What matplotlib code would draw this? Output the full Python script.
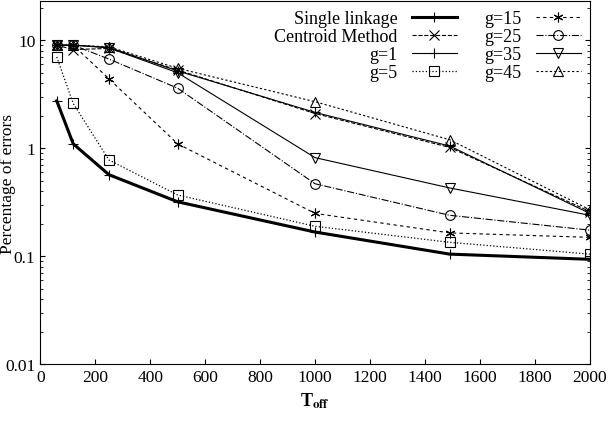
import matplotlib
matplotlib.use("Agg")
import matplotlib.pyplot as plt

plt.rcParams['font.family'] = ['Liberation Serif', 'DejaVu Serif']
plt.rcParams['mathtext.fontset'] = 'stix'

x = [60, 120, 250, 500, 1000, 1490, 2000]
single = [2.75, 1.1, 0.57, 0.32, 0.168, 0.105, 0.094]
centroid = [9.0, 8.2, 8.4, 5.3, 2.1, 1.02, 0.26]
g1 = [9.0, 9.0, 8.6, 5.2, 2.15, 1.05, 0.25]
g5 = [7.0, 2.6, 0.78, 0.37, 0.19, 0.135, 0.105]
g15 = [9.0, 9.0, 4.4, 1.1, 0.25, 0.165, 0.15]
g25 = [9.0, 9.0, 6.7, 3.6, 0.47, 0.24, 0.175]
g35 = [9.0, 9.0, 8.5, 5.0, 0.82, 0.43, 0.24]
g45 = [9.0, 9.0, 8.7, 5.5, 2.7, 1.2, 0.27]

fig = plt.figure(figsize=(6.10, 4.31), dpi=100)
ax = fig.add_axes([0.066, 0.152, 0.901, 0.843])
k = dict(color='black', markerfacecolor='none', markersize=7, mew=0.8)
ax.plot(x, single, linestyle='-', lw=2.2, marker='+', label='Single linkage', **k)
ax.plot(x, centroid, linestyle='--', lw=0.8, marker='x', label='Centroid Method', **k)
ax.plot(x, g1, linestyle='-', lw=0.8, marker='+', label='g=1', **k)
ax.plot(x, g5, linestyle=':', lw=0.9, marker='s', label='g=5', **k)
ax.plot(x, g15, linestyle=(0, (3, 3)), lw=0.8, marker=(6, 2, 0), label='g=15', **k)
ax.plot(x, g25, linestyle='-.', lw=0.8, marker='o', label='g=25', **k)
ax.plot(x, g35, linestyle='-', lw=0.8, marker='v', label='g=35', **k)
ax.plot(x, g45, linestyle=(0, (2, 2)), lw=0.8, marker='^', label='g=45', **k)

ax.set_yscale('log')
ax.set_ylim(0.01, 23)
ax.set_xlim(0, 2000)
ax.set_xticks(range(0, 2001, 200))
ax.set_yticks([0.01, 0.1, 1, 10])
ax.set_yticklabels(['0.01', '0.1', '1', '10'])
ax.tick_params(direction='in', which='both', top=False, right=True, labelsize=12.5)
ax.set_xlabel(r'T$_{\mathbf{off}}$', fontsize=13, fontweight='bold')
ax.set_ylabel('Percentage of errors', fontsize=12.5)
ax.yaxis.set_label_coords(-0.045, 0.5)
ax.legend(ncol=2, loc='upper right', frameon=False, markerfirst=False, fontsize=13,
          handlelength=2.5, columnspacing=1.5, labelspacing=0.05, borderaxespad=0.1)
fig.savefig('out.png', dpi=100)
